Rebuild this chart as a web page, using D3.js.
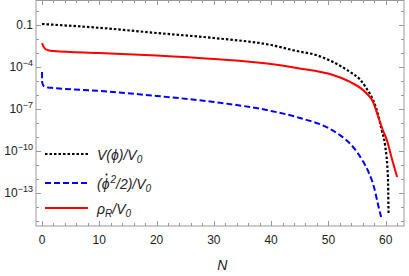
<!DOCTYPE html>
<html lang="en">
<head>
<meta charset="UTF-8" />
<title>Energy densities vs N</title>
<script src="https://d3js.org/d3.v7.min.js"></script>
<style>
  body { margin: 0; background: #fff; }
  svg { display: block; font-family: 'Liberation Sans', Arial, sans-serif; }
  .tick-label { font-size: 12px; fill: #222; }
  .leg { font-size: 14px; font-style: italic; fill: #222; }
</style>
</head>
<body>
<div id="chart"></div>
<script>
// N values and log10 of each curve
const potN   = [0, 10, 20, 30, 40, 44.5, 47.8, 50.8, 53.8, 55.6, 56.6, 57.8, 58.6, 59.3, 59.9, 60.4, 60.5];
const potLog = [-0.93, -1.2, -1.57, -1.93, -2.43, -2.86, -3.14, -3.64, -4.36, -4.93, -5.5, -6.36, -7.29, -8.5, -9.6, -11.9, -14.5];

const kinN   = [0, 0.03, 0.3, 1, 2, 10, 20, 30, 40, 45, 50, 52, 54, 56, 57, 58, 58.6, 59.2];
const kinLog = [-4.36, -5.1, -5.36, -5.46, -5.5, -5.71, -6.07, -6.5, -7.14, -7.64, -8.36, -8.86, -9.57, -10.71, -11.5, -12.64, -13.71, -14.71];

const radN   = [0, 0.3, 0.7, 1.2, 2, 10, 20, 30, 40, 44.5, 50.8, 53.8, 56.6, 57.8, 58.6, 59.5, 60.2, 61, 62];
const radLog = [-2.29, -2.57, -2.75, -2.82, -2.86, -3.0, -3.18, -3.43, -3.79, -4.07, -4.57, -5.07, -5.86, -6.5, -7.43, -8.5, -9.21, -10.43, -11.86];

const xMajor = [0, 10, 20, 30, 40, 50, 60];
const yLabelExp = [-1, -4, -7, -10, -13];

const W = 409, H = 276;
const m = { left: 36, right: 404, top: 0, bottom: 226 };

const x = d3.scaleLinear().domain([-1.05, 63.2]).range([m.left, m.right]);
const y = d3.scaleLog().domain([Math.pow(10, 0.786), Math.pow(10, -15.36)]).range([m.top, m.bottom]);

const svg = d3.select("#chart").append("svg").attr("width", W).attr("height", H);

// frame
svg.append("rect")
  .attr("x", m.left).attr("y", m.top + 0.5)
  .attr("width", m.right - m.left).attr("height", m.bottom - m.top - 0.5)
  .attr("fill", "none").attr("stroke", "#999").attr("stroke-width", 1);

const tickG = svg.append("g").attr("stroke", "#999").attr("stroke-width", 1);

// x ticks (every 2, major every 10), bottom and top
d3.range(0, 64, 2).forEach(n => {
  const len = n % 10 === 0 ? 5 : 3;
  const px = Math.round(x(n)) + 0.5;
  tickG.append("line").attr("x1", px).attr("x2", px).attr("y1", m.bottom).attr("y2", m.bottom - len);
  tickG.append("line").attr("x1", px).attr("x2", px).attr("y1", m.top).attr("y2", m.top + len);
});

// y ticks every decade, major every 3 decades
d3.range(0, -16, -1).forEach(e => {
  const len = yLabelExp.includes(e) ? 5 : 3;
  const py = Math.round(y(Math.pow(10, e))) + 0.5;
  tickG.append("line").attr("x1", m.left).attr("x2", m.left + len).attr("y1", py).attr("y2", py);
  tickG.append("line").attr("x1", m.right).attr("x2", m.right - len).attr("y1", py).attr("y2", py);
});

// x tick labels
svg.selectAll(".xl").data(xMajor).enter().append("text")
  .attr("class", "tick-label")
  .attr("x", d => x(d)).attr("y", 244)
  .attr("text-anchor", "middle")
  .text(d => d);

// y tick labels
yLabelExp.forEach(e => {
  const t = svg.append("text").attr("class", "tick-label")
    .attr("x", 33).attr("y", y(Math.pow(10, e)) + 4)
    .attr("text-anchor", "end");
  if (e === -1) {
    t.text("0.1");
  } else {
    t.append("tspan").text("10");
    t.append("tspan").attr("font-size", "9px").attr("dy", -5).text("\u2212" + (-e));
  }
});

// x axis title
svg.append("text").attr("class", "leg")
  .attr("x", x(31.5)).attr("y", 270).attr("text-anchor", "middle")
  .attr("font-size", "15px").text("N");

// curves
const line = d3.line()
  .x(d => x(d[0]))
  .y(d => y(Math.pow(10, d[1])))
  .curve(d3.curveMonotoneX);

const series = [
  { n: potN, v: potLog, color: "#000", dash: "2.5,2", w: 2.2 },
  { n: kinN, v: kinLog, color: "#0000ff", dash: "6,3", w: 2 },
  { n: radN, v: radLog, color: "#ff0000", dash: null, w: 2 }
];

series.forEach(s => {
  svg.append("path")
    .datum(d3.zip(s.n, s.v))
    .attr("d", line)
    .attr("fill", "none")
    .attr("stroke", s.color)
    .attr("stroke-width", s.w)
    .attr("stroke-dasharray", s.dash);
});

// legend
const legY = [154, 183, 208];
const legX = 97;
series.forEach((s, i) => {
  svg.append("line")
    .attr("x1", 45).attr("x2", 88).attr("y1", legY[i]).attr("y2", legY[i])
    .attr("stroke", s.color).attr("stroke-width", s.w)
    .attr("stroke-dasharray", s.dash);
});

const t1 = svg.append("text").attr("class", "leg").attr("x", legX).attr("y", legY[0] + 6);
t1.append("tspan").text("V(\u03d5)/V");
t1.append("tspan").attr("font-size", "10px").attr("dy", 3).text("0");

const t2 = svg.append("text").attr("class", "leg").attr("x", legX).attr("y", legY[1] + 6);
t2.append("tspan").text("(\u03d5");
t2.append("tspan").attr("font-size", "10px").attr("dy", -6).attr("dx", 1).text("2");
t2.append("tspan").attr("dy", 6).text("/2)/V");
t2.append("tspan").attr("font-size", "10px").attr("dy", 3).text("0");

// dot over phi, drawn as a small circle
const phiBox = t2.node().getExtentOfChar(1);
svg.append("circle")
  .attr("cx", phiBox.x + phiBox.width / 2 + 1)
  .attr("cy", phiBox.y - 1.5)
  .attr("r", 1.1)
  .attr("fill", "#222");

const t3 = svg.append("text").attr("class", "leg").attr("x", legX).attr("y", legY[2] + 6);
t3.append("tspan").text("\u03c1");
t3.append("tspan").attr("font-size", "10px").attr("dy", 3).text("R");
t3.append("tspan").attr("dy", -3).text("/V");
t3.append("tspan").attr("font-size", "10px").attr("dy", 3).text("0");
</script>
</body>
</html>
